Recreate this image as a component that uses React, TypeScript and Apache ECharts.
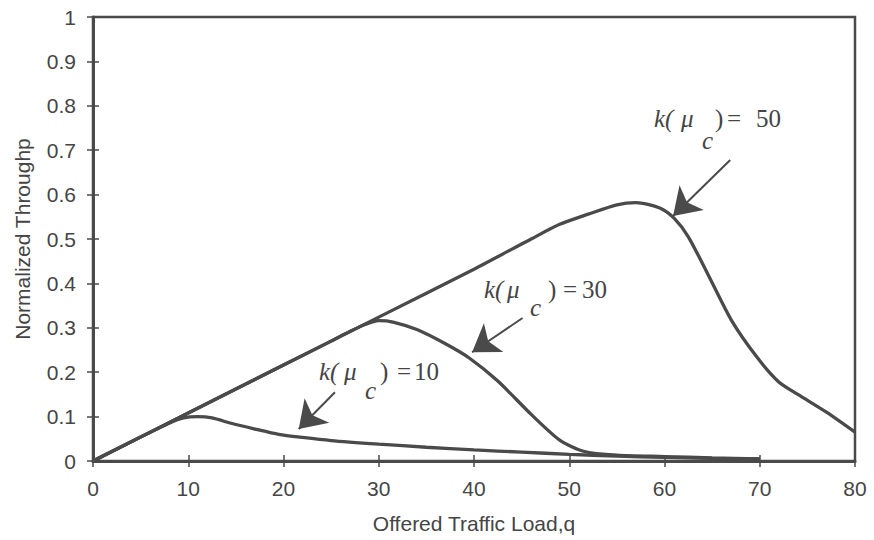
import React, { useEffect, useRef } from "react";
import * as echarts from "echarts";

const xK50 = [0, 10, 20, 30, 40, 46, 49, 52, 55, 57, 59.5, 61, 62.5, 64.5, 67, 69.7, 72, 74, 77, 80];
const yK50 = [0, 0.108, 0.216, 0.324, 0.432, 0.5, 0.533, 0.556, 0.577, 0.582, 0.57, 0.547, 0.505, 0.423, 0.318, 0.234, 0.178, 0.15, 0.11, 0.065];

const xK30 = [0, 10, 20, 25, 27, 28.5, 30, 31.5, 34, 37, 39.5, 42.5, 46, 49, 51.5, 55, 60, 65, 70];
const yK30 = [0, 0.108, 0.216, 0.27, 0.292, 0.307, 0.316, 0.313, 0.296, 0.264, 0.232, 0.18, 0.105, 0.047, 0.022, 0.013, 0.01, 0.007, 0.005];

const xK10 = [0, 5, 8, 9.5, 11, 12.5, 14.5, 17, 19.5, 22, 25, 30, 35, 40, 45, 50, 55, 60, 65, 70];
const yK10 = [0, 0.054, 0.085, 0.097, 0.1, 0.097, 0.085, 0.072, 0.06, 0.053, 0.046, 0.038, 0.031, 0.025, 0.02, 0.015, 0.011, 0.008, 0.006, 0.005];

// arrows: [startX, startY, endX, endY] in data units
const arrow50 = [66.9, 0.678, 60.9, 0.552];
const arrow30 = [45.1, 0.322, 39.8, 0.245];
const arrow10 = [25.4, 0.155, 21.6, 0.072];

const labels = ["50", "30", "10"];

const LINE = "#4a4a4a";
const TXT = "#454545";

function pairs(xs: number[], ys: number[]) {
  return xs.map((x, i) => [x, ys[i]]);
}

function arrowLine(a: number[]) {
  return {
    silent: true,
    symbol: ["none", "arrow"],
    symbolSize: 26,
    lineStyle: { color: LINE, width: 2, type: "solid" },
    itemStyle: { color: LINE },
    label: { show: false },
    emphasis: { disabled: true },
    data: [[{ coord: [a[0], a[1]] }, { coord: [a[2], a[3]] }]],
  };
}

// positions: [k, mu, c, paren, eq, num, midY, cMidY]
function annot(p: number[], val: string) {
  const serif = "'Liberation Serif', 'DejaVu Serif', serif";
  const it = `italic 25px ${serif}`;
  const rm = `25px ${serif}`;
  const t = (x: number, y: number, text: string, font: string) => ({
    type: "text",
    x,
    y,
    silent: true,
    style: { text, font, fill: TXT, align: "left", verticalAlign: "middle" },
  });
  return [
    t(p[0], p[6], "k(", it),
    t(p[1], p[6], "μ", it),
    t(p[2], p[7], "c", it),
    t(p[3], p[6], ")", rm),
    t(p[4], p[6], "=", rm),
    t(p[5], p[6], val, rm),
  ];
}

export default function App() {
  const ref = useRef<HTMLDivElement>(null);
  useEffect(() => {
    if (!ref.current) return;
    const chart = echarts.init(ref.current, null, { renderer: "svg" });
    const sans = "'Liberation Sans', Arial, sans-serif";
    const mkX = (inside: boolean, main: boolean) => ({
      type: "value",
      min: 0,
      max: 80,
      interval: 10,
      position: "bottom",
      name: main ? "Offered Traffic Load,q" : "",
      nameLocation: "middle",
      nameGap: 52,
      nameTextStyle: { fontFamily: sans, fontSize: 21, color: TXT },
      axisLine: { show: main, onZero: false, lineStyle: { color: LINE, width: 3 } },
      axisTick: { show: true, inside, length: 6, lineStyle: { color: LINE, width: 1.5 } },
      axisLabel: { show: main, margin: 17, fontFamily: sans, fontSize: 21, color: TXT },
      splitLine: { show: false },
    });
    const mkY = (inside: boolean, main: boolean) => ({
      type: "value",
      min: 0,
      max: 1,
      interval: 0.1,
      position: "left",
      name: main ? "Normalized Throughp" : "",
      nameLocation: "middle",
      nameGap: 60,
      nameTextStyle: { fontFamily: sans, fontSize: 21, color: TXT },
      axisLine: { show: main, onZero: false, lineStyle: { color: LINE, width: 3 } },
      axisTick: { show: true, inside, length: 6, lineStyle: { color: LINE, width: 1.5 } },
      axisLabel: { show: main, margin: 17, fontFamily: sans, fontSize: 21, color: TXT },
      splitLine: { show: false },
    });
    const lineSeries = (name: string, data: number[][], arrow: number[]) => ({
      name,
      type: "line",
      xAxisIndex: 0,
      yAxisIndex: 0,
      data,
      smooth: 0.25,
      showSymbol: false,
      symbol: "none",
      lineStyle: { color: LINE, width: 3.3 },
      markLine: arrowLine(arrow),
    });
    chart.setOption({
      animation: false,
      backgroundColor: "#fff",
      grid: {
        left: 93,
        right: 19,
        top: 17,
        bottom: 79,
        show: true,
        borderColor: LINE,
        borderWidth: 2.5,
        backgroundColor: "transparent",
      },
      xAxis: [mkX(false, true), mkX(true, false)],
      yAxis: [mkY(false, true), mkY(true, false)],
      series: [
        lineSeries("k50", pairs(xK50, yK50), arrow50),
        lineSeries("k30", pairs(xK30, yK30), arrow30),
        lineSeries("k10", pairs(xK10, yK10), arrow10),
      ],
      graphic: [
        ...annot([654, 681, 702, 715, 727, 756, 118, 140], labels[0]),
        ...annot([484, 507, 530, 548, 563, 582, 289.5, 307], labels[1]),
        ...annot([319, 344, 365, 380, 397, 414, 371, 390], labels[2]),
      ],
    });
    return () => chart.dispose();
  }, []);
  return <div ref={ref} style={{ width: 874, height: 540, position: "absolute", left: 0, top: 0 }} />;
}
